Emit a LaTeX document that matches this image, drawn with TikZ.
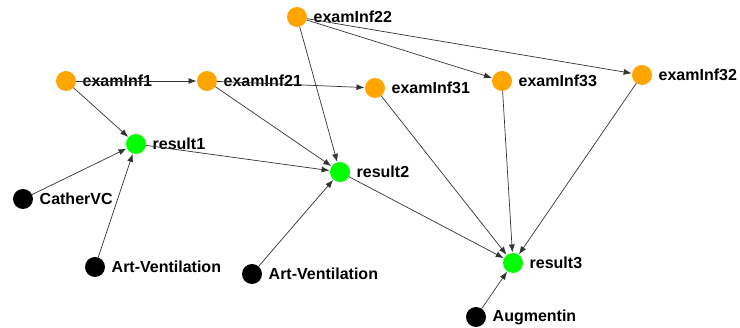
\documentclass[tikz,border=0pt]{standalone}
\usepackage{fontspec}
\setmainfont{Liberation Sans}
\usetikzlibrary{arrows.meta}
\definecolor{orng}{HTML}{FFA500}
\definecolor{grn}{HTML}{00FF00}
\tikzset{
  vert/.style={circle, minimum size=20pt, inner sep=0pt, outer sep=0pt,
    label={[anchor=west, inner sep=0pt, xshift=6.5pt, font=\fontsize{16}{16}\selectfont\bfseries]right:#1}},
  exam/.style={vert=#1, fill=orng},
  res/.style={vert=#1, fill=grn},
  obs/.style={vert=#1, fill=black},
  edge/.style={draw=black!80, line width=0.7pt, -{Latex[length=8pt,width=6pt]}, shorten >=0.5pt}
}
\begin{document}
\begin{tikzpicture}[x=1pt,y=-1pt]
\useasboundingbox (0,0) rectangle (740,328);
\node[exam=examInf22] (e22) at (297,17) {};
\node[exam=examInf1] (e1) at (66,81) {};
\node[exam=examInf21] (e21) at (207,81) {};
\node[exam=examInf31] (e31) at (375,88) {};
\node[exam=examInf33] (e33) at (502,81) {};
\node[exam=examInf32] (e32) at (642,75) {};
\node[res=result1] (r1) at (136,144) {};
\node[res=result2] (r2) at (340,172) {};
\node[res=result3] (r3) at (513,263) {};
\node[obs=CatherVC] (c) at (23,199) {};
\node[obs=Art-Ventilation] (a1) at (95,267) {};
\node[obs=Art-Ventilation] (a2) at (252,274) {};
\node[obs=Augmentin] (au) at (476,317) {};
\draw[edge] (e1) -- (e21);
\draw[edge] (e21) -- (e31);
\draw[edge] (e1) -- (r1);
\draw[edge] (e21) -- (r2);
\draw[edge] (e22) -- (r2);
\draw[edge] (e22) -- (e33);
\draw[edge] (e22) -- (e32);
\draw[edge] (r1) -- (r2);
\draw[edge] (c) -- (r1);
\draw[edge] (a1) -- (r1);
\draw[edge] (a2) -- (r2);
\draw[edge] (r2) -- (r3);
\draw[edge] (e31) -- (r3);
\draw[edge] (e33) -- (r3);
\draw[edge] (e32) -- (r3);
\draw[edge] (au) -- (r3);
\end{tikzpicture}
\end{document}
